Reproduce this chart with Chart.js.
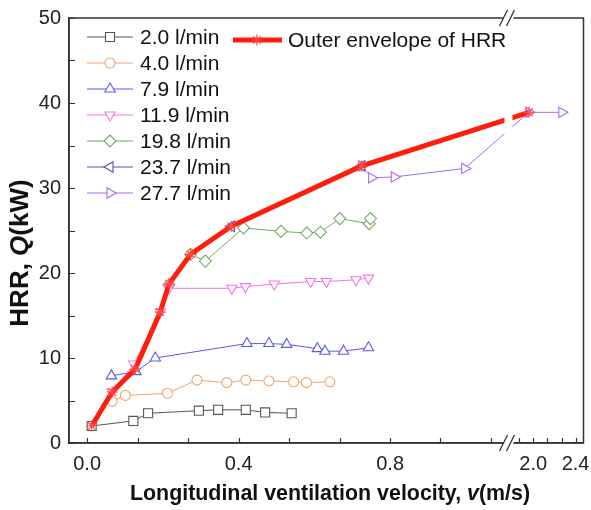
<!DOCTYPE html>
<html>
<head>
<meta charset="utf-8">
<script src="https://cdn.jsdelivr.net/npm/chart.js@4.4.1/dist/chart.umd.min.js"></script>
<style>
  html, body { margin: 0; padding: 0; background: #fff; }
  #wrap { width: 591px; height: 510px; position: relative; }
</style>
</head>
<body>
<div id="wrap"><canvas id="chart"></canvas></div>
<script>
// HRR vs longitudinal ventilation velocity
// v in m/s, Q in kW

const V_2_0 = [0.012, 0.122, 0.161, 0.295, 0.346, 0.419, 0.470, 0.540];
const Q_2_0 = [2.0, 2.6, 3.5, 3.8, 3.9, 3.9, 3.6, 3.5];

const V_4_0 = [0.066, 0.101, 0.212, 0.290, 0.369, 0.419, 0.480, 0.545, 0.579, 0.641];
const Q_4_0 = [4.9, 5.6, 5.85, 7.4, 7.1, 7.4, 7.3, 7.2, 7.1, 7.2];

const V_7_9 = [0.064, 0.129, 0.180, 0.422, 0.480, 0.527, 0.608, 0.628, 0.677, 0.743];
const Q_7_9 = [7.9, 8.4, 10.0, 11.7, 11.7, 11.6, 11.1, 10.8, 10.8, 11.2];

const V_11_9 = [0.066, 0.123, 0.193, 0.216, 0.382, 0.418, 0.494, 0.590, 0.632, 0.710, 0.743];
const Q_11_9 = [6.0, 9.3, 15.4, 18.2, 18.2, 18.4, 18.7, 19.0, 19.0, 19.2, 19.4];

const V_19_8 = [0.216, 0.273, 0.312, 0.413, 0.512, 0.580, 0.616, 0.667, 0.745, 0.748];
const Q_19_8 = [18.6, 22.2, 21.4, 25.3, 24.9, 24.7, 24.8, 26.4, 25.8, 26.4];

const V_23_7 = [0.381, 0.725];
const Q_23_7 = [25.5, 32.6];

const V_27_7 = [0.725, 0.751, 0.811, 0.997, 1.96, 2.27];
const Q_27_7 = [32.6, 31.2, 31.3, 32.3, 38.9, 38.9];

const V_ENV = [0.012, 0.066, 0.127, 0.193, 0.216, 0.273, 0.381, 0.725, 1.96];
const Q_ENV = [2.0, 6.0, 8.7, 15.4, 18.7, 22.2, 25.5, 32.6, 38.9];

const SERIES_LABELS = ['2.0 l/min', '4.0 l/min', '7.9 l/min', '11.9 l/min', '19.8 l/min', '23.7 l/min', '27.7 l/min'];
const ENV_LABEL = 'Outer envelope of HRR';

const X_MAJOR = [0, 0.4, 0.8, 2.0, 2.4];
const X_MINOR = [0.133, 0.267, 0.533, 0.667, 0.933, 1.067, 1.867, 2.133, 2.267];
const Y_TICKS = [0, 5, 10, 15, 20, 25, 30, 35, 40, 45, 50];

const FONT = '"Liberation Sans", Arial, sans-serif';

// broken x axis: 0..~1.11 on the left, ~1.77..2.48 squeezed on the right
const BREAK_U = 1.1126;
function toAxis(v) { return v < 1.5 ? v : 1.178 + (v - 2.0) * 0.2795; }
function fromAxis(u) { return u <= BREAK_U ? u : 2.0 + (u - 1.178) / 0.2795; }

const pts = (xs, ys) => xs.map((v, i) => ({ x: toAxis(v), y: ys[i] }));

const styles = [
  { color: '#555555', shape: 'rect', rot: 0, r: 6.4 },
  { color: '#f3a56c', shape: 'circle', rot: 0, r: 5 },
  { color: '#5a5af2', shape: 'triangle', rot: 0, r: 6 },
  { color: '#f274f2', shape: 'triangle', rot: 180, r: 6 },
  { color: '#72ad62', shape: 'rectRot', rot: 0, r: 6 },
  { color: '#5550b0', shape: 'triangle', rot: -90, r: 6 },
  { color: '#a76cf4', shape: 'triangle', rot: 90, r: 6 },
];
const seriesData = [
  pts(V_2_0, Q_2_0), pts(V_4_0, Q_4_0), pts(V_7_9, Q_7_9), pts(V_11_9, Q_11_9),
  pts(V_19_8, Q_19_8), pts(V_23_7, Q_23_7), pts(V_27_7, Q_27_7),
];

const datasets = [{
  label: ENV_LABEL,
  data: pts(V_ENV, Q_ENV),
  borderColor: '#ff1e0e',
  borderWidth: 5,
  pointStyle: 'star',
  pointRadius: 5.5,
  pointBorderColor: '#ff4a4a',
  pointBackgroundColor: '#ff4a4a',
  pointBorderWidth: 1.2,
}];
seriesData.forEach((d, i) => {
  const s = styles[i];
  datasets.push({
    label: SERIES_LABELS[i],
    data: d,
    borderColor: s.color,
    borderWidth: 1,
    pointStyle: s.shape,
    pointRotation: s.rot,
    pointRadius: s.r,
    pointBorderColor: s.color,
    pointBackgroundColor: '#ffffff',
    pointBorderWidth: 1.1,
  });
});

function drawMixed(ctx, parts, x, y, size, rotate) {
  ctx.save();
  ctx.translate(x, y);
  if (rotate) ctx.rotate(-Math.PI / 2);
  ctx.textBaseline = 'middle';
  ctx.fillStyle = '#111';
  let total = 0;
  parts.forEach((p) => {
    ctx.font = `${p.i ? 'italic ' : ''}bold ${size}px ${FONT}`;
    total += ctx.measureText(p.t).width;
  });
  let cx = -total / 2;
  parts.forEach((p) => {
    ctx.font = `${p.i ? 'italic ' : ''}bold ${size}px ${FONT}`;
    ctx.fillText(p.t, cx, 0);
    cx += ctx.measureText(p.t).width;
  });
  ctx.restore();
}

function marker(ctx, opts, x, y) {
  if (Chart.helpers && Chart.helpers.drawPoint) {
    Chart.helpers.drawPoint(ctx, opts, x, y);
  } else {
    ctx.beginPath();
    ctx.arc(x, y, opts.radius, 0, Math.PI * 2);
    ctx.fill();
    ctx.stroke();
  }
}

function slashes(ctx, xc, yc) {
  ctx.save();
  ctx.fillStyle = '#fff';
  ctx.fillRect(xc - 5, yc - 3, 10, 6);
  ctx.strokeStyle = '#333';
  ctx.lineWidth = 1.3;
  ctx.beginPath();
  ctx.moveTo(xc - 9, yc + 8); ctx.lineTo(xc - 1, yc - 8);
  ctx.moveTo(xc - 2, yc + 8); ctx.lineTo(xc + 6, yc - 8);
  ctx.stroke();
  ctx.restore();
}

const decor = {
  id: 'decor',
  afterDatasetsDraw(chart) {
    const { ctx, chartArea: a } = chart;
    const xb = chart.scales.x.getPixelForValue(BREAK_U);
    ctx.save();
    ctx.fillStyle = '#fff';
    ctx.fillRect(xb - 4, a.top + 1, 8, a.bottom - a.top - 2);
    ctx.restore();
  },
  afterDraw(chart) {
    const { ctx, chartArea: a } = chart;
    const xs = chart.scales.x, ys = chart.scales.y;
    ctx.save();
    // frame
    ctx.strokeStyle = '#333';
    ctx.lineWidth = 1.5;
    ctx.strokeRect(a.left, a.top, a.right - a.left, a.bottom - a.top);
    // inside ticks
    ctx.lineWidth = 1.2;
    ctx.beginPath();
    Y_TICKS.forEach((t) => {
      const y = Math.round(ys.getPixelForValue(t)) + 0.5;
      ctx.moveTo(a.left, y); ctx.lineTo(a.left + 6, y);
    });
    X_MAJOR.concat(X_MINOR).forEach((t) => {
      const x = Math.round(xs.getPixelForValue(toAxis(t))) + 0.5;
      ctx.moveTo(x, a.bottom); ctx.lineTo(x, a.bottom - 5);
    });
    ctx.stroke();
    ctx.restore();

    const xb = xs.getPixelForValue(BREAK_U);
    slashes(ctx, xb, a.bottom);
    slashes(ctx, xb, a.top);

    // legend
    ctx.save();
    ctx.font = `21px ${FONT}`;
    ctx.textBaseline = 'middle';
    datasets.slice(1).forEach((d, i) => {
      const y = 37 + 26 * i;
      ctx.strokeStyle = d.borderColor;
      ctx.lineWidth = 1;
      ctx.beginPath(); ctx.moveTo(87, y); ctx.lineTo(133, y); ctx.stroke();
      ctx.fillStyle = '#fff';
      ctx.lineWidth = 1.1;
      marker(ctx, { pointStyle: d.pointStyle, rotation: d.pointRotation, radius: d.pointRadius, borderWidth: 1.1 }, 110, y);
      ctx.fillStyle = '#111';
      ctx.fillText(d.label, 140, y + 1);
    });
    const env = datasets[0];
    ctx.strokeStyle = env.borderColor;
    ctx.lineWidth = 5;
    ctx.beginPath(); ctx.moveTo(233, 40); ctx.lineTo(282, 40); ctx.stroke();
    ctx.strokeStyle = env.pointBorderColor;
    ctx.fillStyle = env.pointBackgroundColor;
    ctx.lineWidth = 1.2;
    marker(ctx, { pointStyle: 'star', rotation: 0, radius: 5.5, borderWidth: 1.2 }, 257, 40);
    ctx.fillStyle = '#111';
    ctx.fillText(env.label, 288, 41);
    ctx.restore();

    // axis titles
    drawMixed(ctx, [{ t: 'Longitudinal ventilation velocity, ' }, { t: 'v', i: true }, { t: '(m/s)' }],
      330, 494, 21.4, false);
    drawMixed(ctx, [{ t: 'HRR, ' }, { t: 'Q', i: true }, { t: '(kW)' }], 21, 253, 26, true);
  },
};

new Chart(document.getElementById('chart'), {
  type: 'line',
  data: { datasets },
  plugins: [decor],
  options: {
    responsive: true,
    maintainAspectRatio: false,
    animation: false,
    layout: { padding: { top: 18, right: 3, bottom: 0, left: 0 } },
    plugins: { legend: { display: false }, tooltip: { enabled: false } },
    elements: { line: { tension: 0 } },
    scales: {
      x: {
        type: 'linear',
        min: -0.0479,
        max: 1.3107,
        afterFit: (s) => { s.height = 67; s.paddingLeft = 0; s.paddingRight = 0; },
        afterBuildTicks: (s) => {
          s.ticks = X_MAJOR.map((v) => ({ value: toAxis(v), big: true }))
            .concat(X_MINOR.map((v) => ({ value: toAxis(v), big: false })))
            .sort((p, q) => p.value - q.value);
        },
        grid: { display: false, drawTicks: false },
        border: { display: true, color: '#333', width: 1.5 },
        ticks: {
          autoSkip: false,
          maxRotation: 0,
          padding: 9,
          color: '#222',
          font: { family: FONT, size: 20 },
          callback: (value, i, ticks) => (ticks[i].big ? fromAxis(value).toFixed(1) : ''),
        },
      },
      y: {
        min: 0,
        max: 50,
        afterFit: (s) => { s.width = 69; s.paddingTop = 0; s.paddingBottom = 0; },
        afterBuildTicks: (s) => { s.ticks = Y_TICKS.map((v) => ({ value: v })); },
        grid: { display: false, drawTicks: false },
        border: { display: true, color: '#333', width: 1.5 },
        ticks: {
          padding: 8,
          color: '#222',
          font: { family: FONT, size: 20 },
          callback: (value) => (value % 10 === 0 ? String(value) : ''),
        },
      },
    },
  },
});
</script>
</body>
</html>
